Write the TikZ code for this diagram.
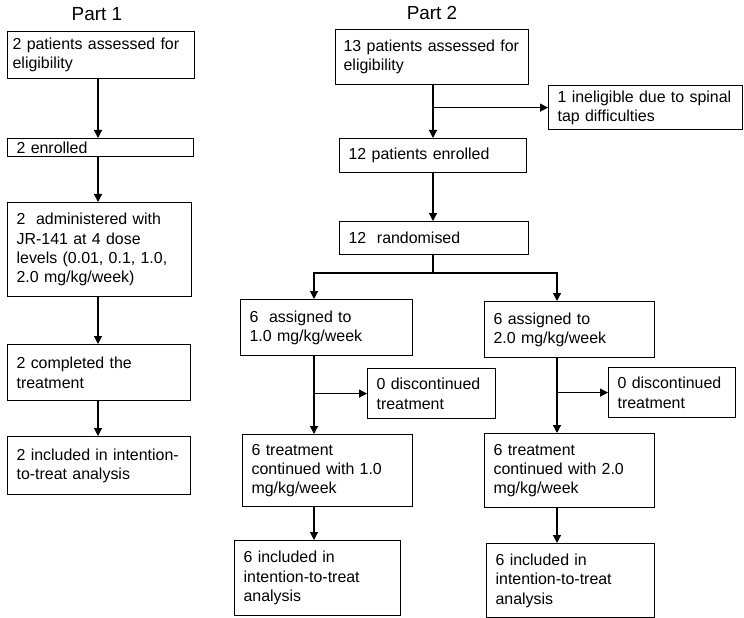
\documentclass[tikz,border=0pt]{standalone}
\usepackage{fontspec}
\setmainfont{Liberation Sans}
\usetikzlibrary{arrows.meta}

\begin{document}
\begin{tikzpicture}[x=1bp, y=-1bp, line width=1.2bp,
  every node/.style={font=\fontsize{16}{19.5}\selectfont},
  box/.style={draw, rectangle, anchor=north west, align=left, inner xsep=9bp, inner ysep=1bp},
  arr/.style={-{Triangle[width=8bp,length=8bp]}}]
\useasboundingbox (0,0) rectangle (744,618);

% Part 1
\node[font=\fontsize{19}{23}\selectfont] (T1) at (97,14) {Part 1};
\node[box, inner xsep=5bp, text width=177bp, minimum height=47bp] (A1) at (7,31) {2 patients assessed for\\eligibility};
\node[box, text width=168bp, minimum height=18bp] (A2) at (7,138) {2 enrolled};
\node[box, text width=166bp, minimum height=94bp] (A3) at (7,202) {2\ \ administered with\\JR-141 at 4 dose\\levels (0.01, 0.1, 1.0,\\2.0 mg/kg/week)};
\node[box, text width=165bp, minimum height=56bp] (A4) at (7,344) {2 completed the\\treatment};
\node[box, text width=165bp, minimum height=58bp] (A5) at (7,436) {2 included in intention-\\to-treat analysis};

% Part 2
\node[font=\fontsize{19}{23}\selectfont] (T2) at (432,13) {Part 2};
\node[box, inner xsep=8bp, text width=177bp, minimum height=55bp] (B1) at (335,29) {\mbox{13 patients assessed for}\\eligibility};
\node[box, text width=176bp, minimum height=44bp] (BX) at (548,85) {1 ineligible due to spinal\\tap difficulties};
\node[box, text width=169bp, minimum height=34bp] (B2) at (339,138) {12 patients enrolled};
\node[box, text width=171bp, minimum height=33bp] (B3) at (339,221) {12\ \ randomised};

% the two arms
\node[box, text width=154bp, minimum height=56bp] (L1) at (240,299) {6\ \ assigned to\\1.0 mg/kg/week};
\node[box, text width=152bp, minimum height=56bp] (R1) at (484,301) {6 assigned to\\2.0 mg/kg/week};
\node[box, text width=110bp, minimum height=50bp] (LX) at (367,368) {0 discontinued\\treatment};
\node[box, text width=109bp, minimum height=50bp] (RX) at (608,367) {0 discontinued\\treatment};
\node[box, text width=152bp, minimum height=72bp] (L2) at (242,434) {6 treatment\\continued with 1.0\\mg/kg/week};
\node[box, text width=152bp, minimum height=74bp] (R2) at (484,433) {6 treatment\\continued with 2.0\\mg/kg/week};
\node[box, text width=148bp, minimum height=75bp] (L3) at (234,540) {6 included in\\intention-to-treat\\analysis};
\node[box, text width=150bp, minimum height=74bp] (R3) at (486,543) {6 included in\\intention-to-treat\\analysis};

% columns of the arrows
\coordinate (cA) at (98,0);
\coordinate (cB) at (433,0);
\coordinate (cL) at (314,273);
\coordinate (cR) at (557,273);

% Draw arrows
\draw[arr] (cA |- A1.south) -- (cA |- A2.north);
\draw[arr] (cA |- A2.south) -- (cA |- A3.north);
\draw[arr] (cA |- A3.south) -- (cA |- A4.north);
\draw[arr] (cA |- A4.south) -- (cA |- A5.north);

\draw[arr] (cB |- B1.south) -- (cB |- B2.north);
\draw[arr] (cB |- BX.west) -- (BX.west);
\draw[arr] (cB |- B2.south) -- (cB |- B3.north);
\draw (cB |- B3.south) -- (cB |- cL);
\draw[arr] (cB |- cL) -| (cL |- L1.north);
\draw[arr] (cB |- cL) -| (cR |- R1.north);

\draw[arr] (cL |- L1.south) -- (cL |- L2.north);
\draw[arr] (cL |- LX.west) -- (LX.west);
\draw[arr] (cL |- L2.south) -- (cL |- L3.north);
\draw[arr] (cR |- R1.south) -- (cR |- R2.north);
\draw[arr] (cR |- RX.west) -- (RX.west);
\draw[arr] (cR |- R2.south) -- (cR |- R3.north);
\end{tikzpicture}
\end{document}
